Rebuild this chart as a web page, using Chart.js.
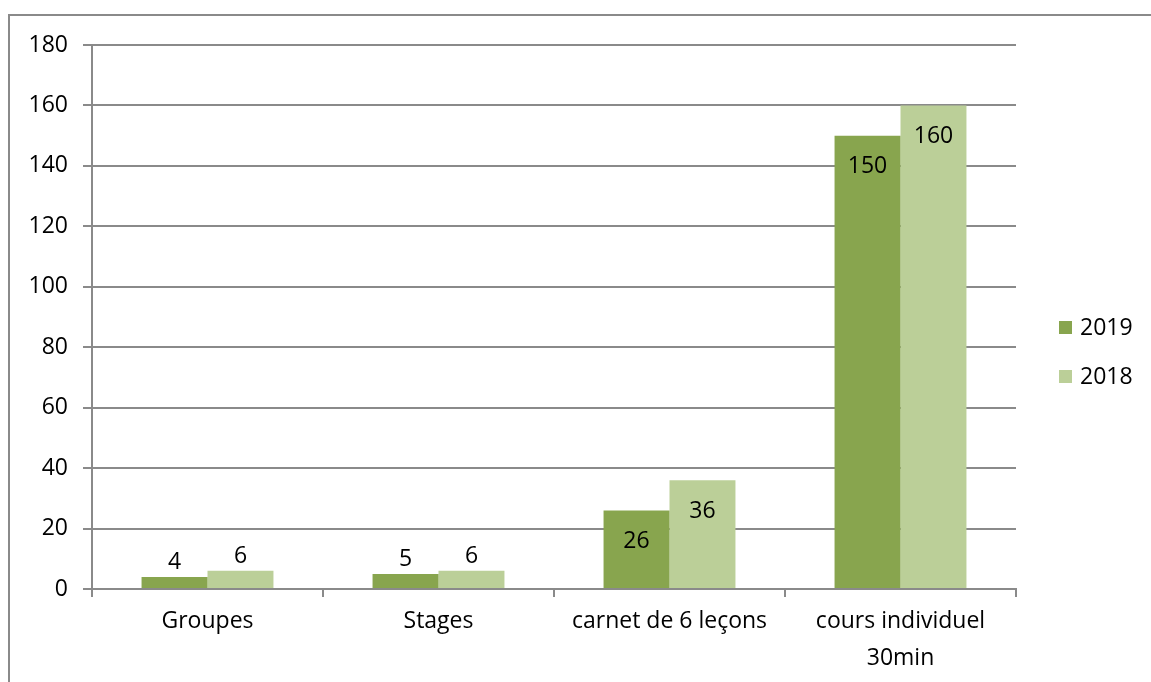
<!DOCTYPE html>
<html>
<head>
<meta charset="utf-8">
<script src="https://cdn.jsdelivr.net/npm/chart.js@4.4.0/dist/chart.umd.min.js"></script>
<style>
  html, body { margin: 0; padding: 0; background: #fff; }
  #wrap { width: 1151px; height: 682px; position: relative; }
</style>
</head>
<body>
<div id="wrap"><canvas id="chart" width="1151" height="682"></canvas></div>
<script>
const categories = ['Groupes', 'Stages', 'carnet de 6 leçons', ['cours individuel', '30min']];
const seriesNames = ['2019', '2018'];
const values2019 = [4, 5, 26, 150];
const values2018 = [6, 6, 36, 160];
const yTicks = [0, 20, 40, 60, 80, 100, 120, 140, 160, 180];

const FONT = '"Open Sans", "Noto Sans", sans-serif';
const FSIZE = 23;
const GRID = '#8a8a8a';
const colors = ['#88a54e', '#bbcf98'];

// outer frame (top + left lines only)
const framePlugin = {
  id: 'frame',
  beforeDraw(chart) {
    const ctx = chart.ctx;
    ctx.save();
    ctx.strokeStyle = GRID;
    ctx.lineWidth = 2;
    ctx.beginPath();
    ctx.moveTo(9, 682);
    ctx.lineTo(9, 15);
    ctx.lineTo(1151, 15);
    ctx.stroke();
    ctx.restore();
  }
};

// value labels: inside near the top for tall bars, above for short ones
const valueLabels = {
  id: 'valueLabels',
  afterDatasetsDraw(chart) {
    const ctx = chart.ctx;
    ctx.save();
    ctx.font = FSIZE + 'px ' + FONT;
    ctx.fillStyle = '#000';
    ctx.textAlign = 'center';
    ctx.textBaseline = 'middle';
    chart.data.datasets.forEach((ds, i) => {
      chart.getDatasetMeta(i).data.forEach((bar, j) => {
        const h = bar.base - bar.y;
        const y = h > 50 ? bar.y + 31 : bar.y - 14;
        ctx.fillText(String(ds.data[j]), bar.x, y);
      });
    });
    ctx.restore();
  }
};

// legend on the right
const sideLegend = {
  id: 'sideLegend',
  afterDraw(chart) {
    const ctx = chart.ctx;
    ctx.save();
    ctx.font = FSIZE + 'px ' + FONT;
    ctx.textBaseline = 'middle';
    ctx.textAlign = 'left';
    const rows = [327, 376];
    seriesNames.forEach((name, i) => {
      ctx.fillStyle = colors[i];
      ctx.fillRect(1059, rows[i] - 6, 13, 13);
      ctx.fillStyle = '#000';
      ctx.fillText(name, 1080, rows[i] + 1);
    });
    ctx.restore();
  }
};

new Chart(document.getElementById('chart'), {
  type: 'bar',
  data: {
    labels: categories,
    datasets: [
      { label: seriesNames[0], data: values2019, backgroundColor: colors[0] },
      { label: seriesNames[1], data: values2018, backgroundColor: colors[1] }
    ]
  },
  options: {
    responsive: false,
    animation: false,
    events: [],
    categoryPercentage: 0.571,
    barPercentage: 1,
    layout: { padding: { left: 0, top: 45, right: 135, bottom: 0 } },
    plugins: {
      legend: { display: false },
      tooltip: { enabled: false }
    },
    scales: {
      x: {
        grid: {
          offset: true,
          drawOnChartArea: false,
          drawTicks: true,
          tickLength: 8,
          color: GRID,
          lineWidth: 2
        },
        border: { display: true, color: GRID, width: 2 },
        ticks: {
          color: '#000',
          font: { family: FONT, size: FSIZE, lineHeight: 37 / FSIZE },
          padding: 6,
          maxRotation: 0,
          autoSkip: false
        },
        afterFit(scale) { scale.height = 682 - 45 - 544; }
      },
      y: {
        min: 0,
        max: 180,
        afterBuildTicks(scale) { scale.ticks = yTicks.map(v => ({ value: v })); },
        grid: { color: GRID, lineWidth: 2, tickLength: 9 },
        border: { display: true, color: GRID, width: 2 },
        ticks: {
          color: '#000',
          font: { family: FONT, size: FSIZE },
          padding: 15
        },
        afterFit(scale) { scale.width = 92; }
      }
    }
  },
  plugins: [framePlugin, valueLabels, sideLegend]
});
</script>
</body>
</html>
